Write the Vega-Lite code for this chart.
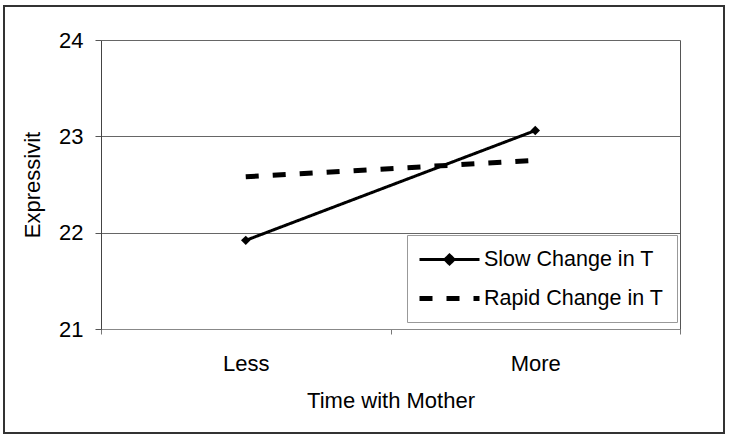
{
  "$schema": "https://vega.github.io/schema/vega-lite/v6.json",
  "width": 720,
  "height": 427,
  "autosize": {"type": "none"},
  "padding": {"left": 4, "top": 6, "right": 7, "bottom": 3},
  "background": "white",
  "data": {
    "values": [
      {"time": "Less", "series": "Slow Change in T", "value": 21.92},
      {"time": "More", "series": "Slow Change in T", "value": 23.06},
      {"time": "Less", "series": "Rapid Change in T", "value": 22.58},
      {"time": "More", "series": "Rapid Change in T", "value": 22.75}
    ]
  },
  "layer": [
    {
      "mark": {"type": "line", "color": "black"},
      "encoding": {
        "x": {
          "field": "time", "type": "nominal", "sort": ["Less", "More"], "bandPosition": 0.5,
          "scale": {"type": "band", "range": [97, 676], "padding": 0},
          "axis": {
            "title": "Time with Mother", "labelAngle": 0, "tickBand": "extent",
            "tickSize": 5, "labelPadding": 19, "titlePadding": 16, "offset": -104,
            "grid": false, "domainColor": "#888888", "tickColor": "#777777"
          }
        },
        "y": {
          "field": "value", "type": "quantitative",
          "scale": {"domain": [21, 24], "range": [323, 34], "zero": false, "nice": false},
          "axis": {
            "title": "Expressivit", "values": [21, 22, 23, 24], "grid": true,
            "tickSize": 6, "labelPadding": 12, "titlePadding": 14, "offset": -97,
            "domainColor": "#444444", "tickColor": "#555555", "gridColor": "#666666"
          }
        },
        "strokeDash": {
          "field": "series", "type": "nominal",
          "scale": {"domain": ["Slow Change in T", "Rapid Change in T"], "range": [[1, 0], [13, 14]]},
          "legend": {
            "title": null, "orient": "none", "legendX": 403, "legendY": 229,
            "symbolType": "M-3,0H3", "symbolSize": 400, "symbolOffset": 17, "labelOffset": 22,
            "symbolStrokeColor": "black", "symbolStrokeWidth": 3,
            "labelFontSize": 21.5, "labelFont": "Liberation Sans", "labelColor": "black", "labelLimit": 0,
            "strokeColor": "#999999", "fillColor": "white", "padding": 13, "rowPadding": 16,
            "encode": {
              "symbols": {
                "update": {
                  "shape": [
                    {"test": "datum.value === 'Slow Change in T'", "value": "M-3,0H3M0,-0.45L0.45,0L0,0.45L-0.45,0Z"},
                    {"value": "M-3,0H3"}
                  ],
                  "fill": [
                    {"test": "datum.value === 'Slow Change in T'", "value": "black"},
                    {"value": "transparent"}
                  ],
                  "stroke": {"value": "black"},
                  "strokeDash": [
                    {"test": "datum.value === 'Slow Change in T'", "value": [1, 0]},
                    {"value": [12, 15]}
                  ],
                  "strokeWidth": [
                    {"test": "datum.value === 'Slow Change in T'", "value": 3},
                    {"value": 4}
                  ]
                }
              }
            }
          }
        },
        "strokeWidth": {
          "field": "series", "type": "nominal",
          "scale": {"domain": ["Slow Change in T", "Rapid Change in T"], "range": [3, 5]},
          "legend": null
        }
      }
    },
    {
      "transform": [{"filter": "datum.series === 'Slow Change in T'"}],
      "mark": {"type": "point", "shape": "diamond", "filled": true, "color": "black", "size": 90, "opacity": 1},
      "encoding": {
        "x": {"field": "time", "type": "nominal", "sort": ["Less", "More"], "bandPosition": 0.5},
        "y": {
          "field": "value", "type": "quantitative",
          "axis": {
            "orient": "right", "title": null, "labels": false, "ticks": false, "grid": false,
            "offset": -44, "domainColor": "#555555"
          }
        }
      }
    }
  ],
  "resolve": {"axis": {"y": "independent"}},
  "config": {
    "view": {"stroke": "#333333", "strokeWidth": 2, "fill": "white"},
    "axis": {
      "labelFont": "Liberation Sans", "titleFont": "Liberation Sans",
      "labelFontSize": 22, "titleFontSize": 22, "titleFontWeight": "normal",
      "labelColor": "black", "titleColor": "black"
    }
  }
}
